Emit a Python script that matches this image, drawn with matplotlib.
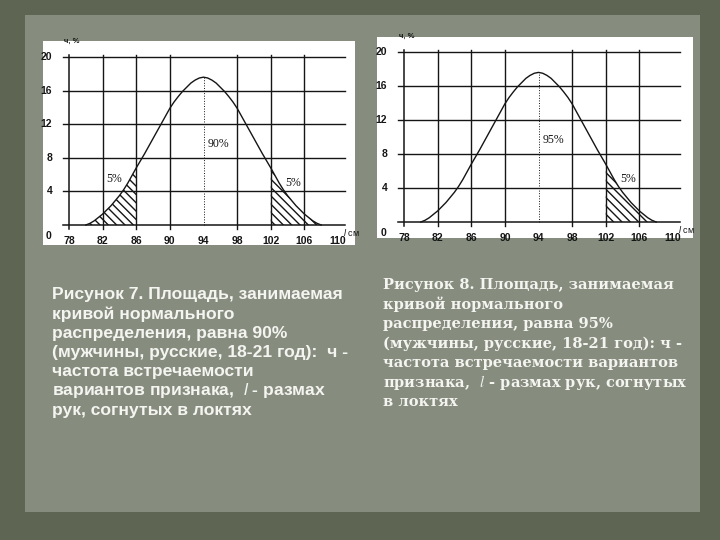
import numpy as np
import matplotlib
matplotlib.use('Agg')
import matplotlib.pyplot as plt
from matplotlib.patches import Rectangle

plt.rcParams['mathtext.fontset'] = 'custom'
plt.rcParams['mathtext.it'] = 'Liberation Sans:italic'
plt.rcParams['hatch.linewidth'] = 1.0

# Données lues sur les deux graphiques (même courbe normale), pas de 0.5 cm
l_cm = [80, 80.5, 81, 81.5, 82, 82.5, 83, 83.5, 84, 84.5, 85, 85.5, 86, 86.5,
        87, 87.5, 88, 88.5, 89, 89.5, 90, 90.5, 91, 91.5, 92, 92.5, 93, 93.5,
        94, 94.5, 95, 95.5, 96, 96.5, 97, 97.5, 98, 98.5, 99, 99.5, 100, 100.5,
        101, 101.5, 102, 102.5, 103, 103.5, 104, 104.5, 105, 105.5, 106, 106.5,
        107, 107.5, 108]
freq = [0.0, 0.2, 0.5, 0.9, 1.3, 1.8, 2.3, 2.9, 3.5, 4.2, 5.0, 5.9, 6.8, 7.65,
        8.5, 9.4, 10.3, 11.2, 12.1, 13.0, 13.9, 14.65, 15.3, 15.9, 16.4, 16.9, 17.25, 17.5,
        17.6, 17.5, 17.25, 16.9, 16.4, 15.9, 15.3, 14.65, 13.9, 13.0, 12.1, 11.2, 10.3, 9.4,
        8.5, 7.65, 6.8, 5.9, 5.0, 4.2, 3.5, 2.9, 2.3, 1.8, 1.3, 0.9,
        0.5, 0.2, 0.0]
x_ticks = [78, 82, 86, 90, 94, 98, 102, 106, 110]
y_ticks = [4, 8, 12, 16, 20]

# Légendes des deux figures
texte_7 = ["Рисунок 7. Площадь, занимаемая",
           "кривой нормального",
           "распределения, равна 90%",
           "(мужчины, русские, 18-21 год):  ч -",
           "частота встречаемости",
           "вариантов признака,  $l$ - размах",
           "рук, согнутых в локтях"]
texte_8 = ["Рисунок 8. Площадь, занимаемая",
           "кривой нормального",
           "распределения, равна 95%",
           "(мужчины, русские, 18-21 год): ч -",
           "частота встречаемости вариантов",
           "признака,  $l$ - размах рук, согнутых",
           "в локтях"]

fig = plt.figure(figsize=(7.2, 5.4), dpi=100)
fig.patch.set_facecolor('#5e6552')
fig.patches.append(Rectangle((25/720, 1 - 512/540), 675/720, 497/540, zorder=-2,
                             transform=fig.transFigure, facecolor='#868d7f', edgecolor='none'))

encre = '#151515'
police_ticks = dict(family='Liberation Sans', weight='bold', size=7.5, color=encre)


def dessiner(ax, queues, label_centre, pos_centre):
    x = np.array(l_cm)
    y = np.array(freq)
    ax.set_xlim(78, 110)
    ax.set_ylim(0, 20)
    ax.axis('off')

    # grille
    for v in y_ticks:
        ax.plot([77.3, 110.8], [v, v], color=encre, lw=1.0, clip_on=False)
    ax.plot([77.3, 110.8], [0, 0], color=encre, lw=1.1, clip_on=False)
    ax.plot([78, 78], [-0.5, 20.2], color=encre, lw=1.1, clip_on=False)
    for v in x_ticks[1:-1]:
        if v == 94:
            continue
        ax.plot([v, v], [-0.5, 20.2], color=encre, lw=1.0, clip_on=False)
    ax.plot([94, 94], [0, max(freq)], color=encre, lw=0.7, ls=':', clip_on=False)

    # courbe
    ax.plot(x, y, color=encre, lw=1.0, clip_on=False)

    # zones hachurées
    for a, b in queues:
        masque = (x >= a) & (x <= b)
        ax.fill_between(x[masque], y[masque], 0, facecolor='none', edgecolor=encre,
                        hatch='\\\\\\\\', linewidth=0)

    # étiquettes
    for v in y_ticks:
        ax.text(76.0, v, str(v), ha='right', va='center', clip_on=False, **police_ticks)
    ax.text(75.6, -1.3, '0', ha='center', va='center', clip_on=False, **police_ticks)
    for v in x_ticks:
        ax.text(v, -1.9, str(v), ha='center', va='center', clip_on=False, **police_ticks)
    ax.text(110.6, -0.9, '$l$ см', ha='left', va='center', family='Liberation Sans',
            size=6.5, color=encre, clip_on=False)
    ax.text(78.3, 21.9, 'ч, %', ha='center', va='center', family='Liberation Sans',
            weight='bold', size=5.5, color=encre, clip_on=False)

    ax.text(pos_centre[0], pos_centre[1], label_centre, ha='center', va='center',
            family='Liberation Serif', size=8.5, color=encre)
    for a, b in queues:
        if a == 80:
            ax.text(83.4, 5.5, '5%', ha='center', va='center',
                    family='Liberation Serif', size=8.5, color=encre)
        else:
            ax.text(104.7, 5.0, '5%', ha='center', va='center',
                    family='Liberation Serif', size=8.5, color=encre)


# Figure 7 (à gauche)
fig.patches.append(Rectangle((43/720, 1 - 245/540), 312/720, 204/540, zorder=-1,
                             transform=fig.transFigure, facecolor='white', edgecolor='none'))
ax1 = fig.add_axes([69/720, 1 - 225/540, 269/720, 168/540])
ax1.patch.set_alpha(0)
dessiner(ax1, [(80, 86), (102, 108)], '90%', (95.8, 9.7))

# Figure 8 (à droite)
fig.patches.append(Rectangle((377/720, 1 - 238/540), 316/720, 201/540, zorder=-1,
                             transform=fig.transFigure, facecolor='white', edgecolor='none'))
ax2 = fig.add_axes([404/720, 1 - 222/540, 269/720, 170/540])
ax2.patch.set_alpha(0)
dessiner(ax2, [(102, 108)], '95%', (95.8, 9.6))

# Textes
for i, ligne in enumerate(texte_7):
    fig.text(52/720, 1 - (295 + 19.2*i)/540, ligne, ha='left', va='center',
             family='Liberation Sans', weight='bold', size=12.6, color='#f4f4f0')
for i, ligne in enumerate(texte_8):
    fig.text(383/720, 1 - (285 + 19.5*i)/540, ligne, ha='left', va='center',
             family='DejaVu Serif', weight='bold', size=10.5, color='#f4f4f0',
             math_fontfamily='stix')

fig.savefig('out.png', dpi=100, facecolor=fig.get_facecolor())
